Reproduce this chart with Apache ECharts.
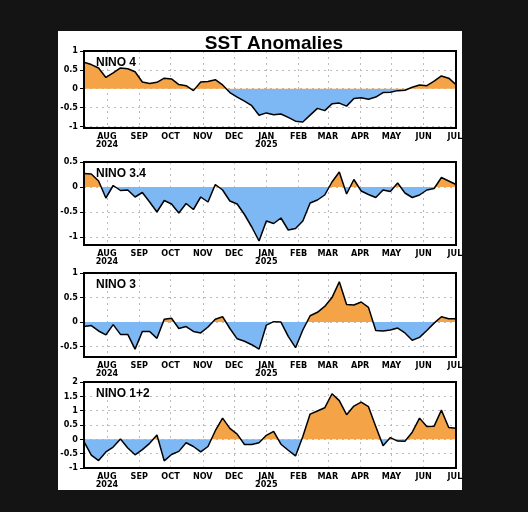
<!DOCTYPE html>
<html>
<head>
<meta charset="utf-8">
<script src="https://cdn.jsdelivr.net/npm/echarts@6/dist/echarts.min.js"></script>
<style>
html, body { margin: 0; padding: 0; background: #141414; }
#chart { width: 528px; height: 512px; }
</style>
</head>
<body>
<div id="chart"></div>
<script>
// weekly SST anomalies, Jul 2024 - Jul 2025
var startDate = '2024-07-10';
var monthNames = ['JAN', 'FEB', 'MAR', 'APR', 'MAY', 'JUN', 'JUL', 'AUG', 'SEP', 'OCT', 'NOV', 'DEC'];
var panelNames = ['NINO 4', 'NINO 3.4', 'NINO 3', 'NINO 1+2'];

var nino4 = [0.70, 0.64, 0.55, 0.30, 0.42, 0.55, 0.53, 0.45, 0.18, 0.14, 0.17, 0.28, 0.26, 0.11, 0.08, -0.05,
    0.18, 0.19, 0.24, 0.10, -0.10, -0.22, -0.33, -0.45, -0.70, -0.64, -0.69, -0.67, -0.76, -0.86, -0.88, -0.70,
    -0.52, -0.58, -0.40, -0.38, -0.46, -0.26, -0.24, -0.28, -0.22, -0.10, -0.09, -0.05, -0.04, 0.04, 0.10, 0.08,
    0.20, 0.34, 0.28, 0.11];
var nino34 = [0.27, 0.26, 0.12, -0.22, 0.03, -0.07, -0.06, -0.20, -0.11, -0.30, -0.50, -0.27, -0.34, -0.52, -0.33, -0.45,
    -0.20, -0.30, 0.05, -0.06, -0.28, -0.34, -0.55, -0.80, -1.08, -0.68, -0.73, -0.62, -0.86, -0.83, -0.68, -0.32,
    -0.26, -0.16, 0.10, 0.30, -0.14, 0.15, -0.08, -0.15, -0.21, -0.06, -0.09, 0.08, -0.12, -0.21, -0.16, -0.06,
    -0.03, 0.19, 0.12, 0.05];
var nino3 = [-0.09, -0.07, -0.18, -0.26, -0.05, -0.25, -0.25, -0.55, -0.19, -0.19, -0.33, 0.06, 0.08, -0.13, -0.09, -0.19,
    -0.22, -0.10, 0.06, 0.11, -0.13, -0.34, -0.39, -0.46, -0.55, -0.06, 0.01, 0.00, -0.29, -0.52, -0.16, 0.13,
    0.20, 0.32, 0.50, 0.82, 0.36, 0.35, 0.41, 0.30, -0.17, -0.18, -0.16, -0.12, -0.22, -0.37, -0.31, -0.17,
    -0.02, 0.11, 0.07, 0.07];
var nino12 = [-0.08, -0.55, -0.74, -0.44, -0.27, 0.01, -0.30, -0.54, -0.36, -0.14, 0.15, -0.75, -0.53, -0.42, -0.12, -0.25,
    -0.44, -0.25, 0.30, 0.74, 0.38, 0.18, -0.18, -0.18, -0.12, 0.14, 0.28, -0.17, -0.38, -0.58, 0.10, 0.88,
    0.99, 1.10, 1.59, 1.35, 0.86, 1.16, 1.30, 1.14, 0.45, -0.22, 0.06, -0.06, -0.07, 0.25, 0.74, 0.45,
    0.46, 1.02, 0.41, 0.39];

var yTicks = [
    [-1, -0.5, 0, 0.5, 1],
    [-1, -0.5, 0, 0.5],
    [-0.5, 0, 0.5, 1],
    [-1, -0.5, 0, 0.5, 1, 1.5, 2]
];
var yMin = [-1.04, -1.16, -0.71, -1];
var yMax = [1, 0.5, 1, 2];
var allSeries = [nino4, nino34, nino3, nino12];

var gridTops = [51, 162, 273, 382];
var gridHeights = [77, 83, 84, 86];
var gridLeft = 84, gridWidth = 372;

function weekDates(n) {
    var out = [];
    var t0 = new Date(startDate + 'T00:00:00').getTime();
    for (var i = 0; i < n; i++) out.push(t0 + i * 7 * 86400000);
    return out;
}
var dates = weekDates(nino4.length);

var chart = echarts.init(document.getElementById('chart'));
var labelFont = '"Liberation Sans Narrow", "DejaVu Sans Condensed", sans-serif';

var grids = [], xAxes = [], yAxes = [], series = [], visualMaps = [], titles = [], frames = [];

titles.push({
    text: 'SST Anomalies',
    left: 269, top: 29, textAlign: 'center',
    textStyle: { fontFamily: 'Liberation Sans', fontWeight: 'bold', fontSize: 19, color: '#000' }
});

frames.push({
    type: 'rect', left: 58, top: 31, z: -10,
    shape: { width: 404, height: 459 },
    style: { fill: '#fff' }
});

for (var p = 0; p < 4; p++) {
    grids.push({
        left: gridLeft, top: gridTops[p], width: gridWidth, height: gridHeights[p]
    });
    frames.push({
        type: 'rect', x: gridLeft, y: gridTops[p], z: 100,
        shape: { width: gridWidth, height: gridHeights[p] },
        style: { fill: null, stroke: '#000', lineWidth: 2 }
    });
    xAxes.push({
        type: 'time', gridIndex: p,
        min: new Date('2024-07-10T00:00:00').getTime(),
        max: new Date('2025-07-02T00:00:00').getTime(),
        minInterval: 28 * 86400000, maxInterval: 31 * 86400000,
        axisLine: { onZero: false, lineStyle: { color: '#000', width: 2 } },
        axisTick: { show: false },
        axisLabel: {
            interval: 0, hideOverlap: false, margin: 5,
            color: '#000', fontSize: 9, fontWeight: 'bold', fontFamily: labelFont, lineHeight: 8,
            formatter: function (v) {
                var d = new Date(v);
                if (d.getDate() !== 1) return '';
                var m = monthNames[d.getMonth()];
                if (d.getMonth() === 7 || d.getMonth() === 0) return m + '\n' + d.getFullYear();
                return m;
            }
        },
        splitLine: { show: true, lineStyle: { color: '#bbb', type: [2, 4], width: 1 } }
    });
    yAxes.push({
        type: 'value', gridIndex: p, min: yMin[p], max: yMax[p],
        axisLine: { show: true, lineStyle: { color: '#000', width: 2 } },
        axisTick: { show: true, length: 4, customValues: yTicks[p], lineStyle: { color: '#000', width: 1 } },
        axisLabel: {
            customValues: yTicks[p], margin: 6,
            color: '#000', fontSize: 9, fontWeight: 'bold', fontFamily: labelFont
        },
        splitLine: { show: true, lineStyle: { color: '#bbb', type: [2, 4], width: 1 } }
    });
    var pts = [];
    for (var i = 0; i < dates.length; i++) pts.push([dates[i], allSeries[p][i]]);
    series.push({
        type: 'line', xAxisIndex: p, yAxisIndex: p,
        data: pts, symbol: 'none', silent: true,
        lineStyle: { color: '#000', width: 1.5 },
        areaStyle: { opacity: 1 }
    });
    visualMaps.push({
        show: false, type: 'piecewise', seriesIndex: p, dimension: 1,
        pieces: [{ min: -5, max: 0, color: '#7EB8F4' }, { min: 0, max: 5, color: '#F4A347' }]
    });
    titles.push({
        text: panelNames[p], left: 91, top: gridTops[p] + 1,
        textStyle: { fontFamily: 'Liberation Sans', fontWeight: 'bold', fontSize: 12, color: '#000' }
    });
}

chart.setOption({
    backgroundColor: '#141414',
    animation: false,
    graphic: frames,
    title: titles,
    grid: grids,
    xAxis: xAxes,
    yAxis: yAxes,
    visualMap: visualMaps,
    series: series
});
</script>
</body>
</html>
